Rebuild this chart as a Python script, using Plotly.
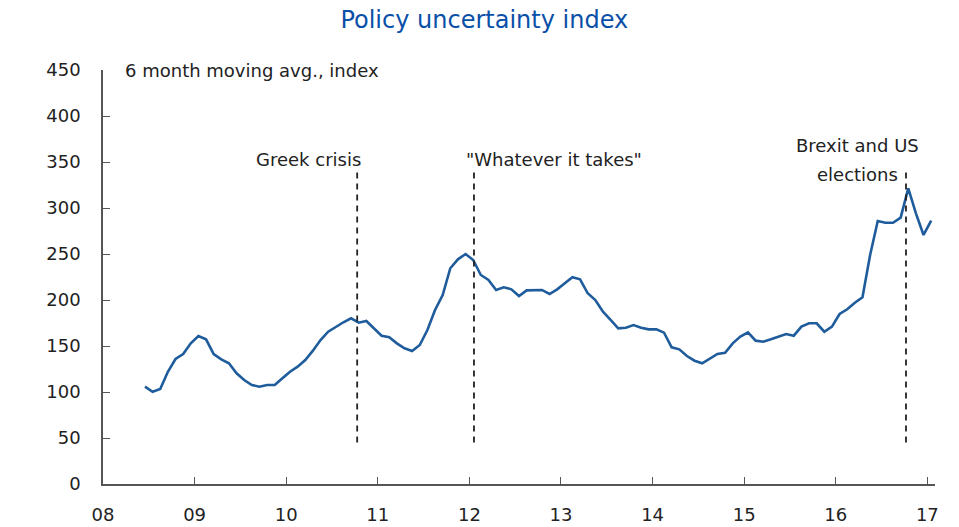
import plotly.graph_objects as go

# Monthly data, June 2008 .. January 2017 (6 month moving avg.)
start_month = 5.5  # months after Jan 2008 (mid-June 2008)
values = [105.8, 100.3, 103.3, 122.0, 135.9, 141.3, 153.0, 160.9, 157.3, 141.3,
          135.5, 131.2, 120.3, 113.0, 107.6, 105.8, 107.6, 107.6, 114.9, 122.0,
          127.5, 134.8, 144.9, 156.5, 165.5, 170.8, 175.8, 180.1, 175.3, 177.2,
          169.2, 161.2, 159.5, 152.9, 147.5, 144.6, 151.1, 167.4, 189.1, 205.4,
          234.5, 244.2, 250.0, 243.5, 227.2, 221.7, 210.9, 213.8, 211.6, 204.3,
          210.5, 210.9, 210.9, 206.5, 211.6, 218.2, 224.7, 222.5, 207.3, 200.0,
          187.3, 178.3, 169.2, 169.9, 172.8, 169.9, 168.1, 168.1, 164.5, 148.6,
          146.4, 139.1, 134.0, 131.2, 135.9, 141.3, 142.7, 152.9, 160.2, 164.9,
          155.8, 154.7, 157.3, 160.1, 163.0, 161.2, 171.0, 174.7, 174.7, 165.5,
          171.0, 184.8, 189.9, 197.1, 202.9, 248.9, 285.9, 284.0, 284.0, 289.5,
          321.4, 294.2, 270.7, 286.2]
months = [start_month + i for i in range(len(values))]

tick_labels = ["08", "09", "10", "11", "12", "13", "14", "15", "16", "17"]
tick_vals = [12 * i for i in range(len(tick_labels))]
y_ticks = [0, 50, 100, 150, 200, 250, 300, 350, 400, 450]

# Event markers (months after Jan 2008)
event_x = [33.3, 48.6, 105.2]
event_y = [45, 340]

font_family = "DejaVu Sans"
text_color = "#222222"

fig = go.Figure()
fig.add_trace(go.Scatter(x=months, y=values, mode="lines",
                         line=dict(color="#1f5c9c", width=2.6),
                         hoverinfo="skip", showlegend=False))
for ex in event_x:
    fig.add_trace(go.Scatter(x=[ex, ex], y=event_y, mode="lines",
                             line=dict(color="#222222", width=1.8, dash="6px,5px"),
                             hoverinfo="skip", showlegend=False))

fig.update_layout(
    width=959, height=527,
    margin=dict(l=103, r=24, t=70, b=43, autoexpand=False),
    paper_bgcolor="white", plot_bgcolor="white",
    font=dict(family=font_family, size=18, color=text_color),
    title=dict(text="Policy uncertainty index", x=0.505, xanchor="center",
               y=0.962, yanchor="middle",
               font=dict(family=font_family, size=24, color="#0a4fa8")),
    xaxis=dict(range=[0, 109], tickvals=tick_vals, ticktext=tick_labels,
               showgrid=False, zeroline=False, showline=True, automargin=False,
               linecolor="#555555", linewidth=1.5,
               ticks="inside", ticklen=7, tickwidth=1.2, tickcolor="#555555",
               tickfont=dict(size=18, color=text_color), ticklabelstandoff=14),
    yaxis=dict(range=[0, 450], tickvals=y_ticks,
               showgrid=False, zeroline=False, showline=True, automargin=False,
               linecolor="#555555", linewidth=1.5,
               ticks="inside", ticklen=7, tickwidth=1.2, tickcolor="#555555",
               tickfont=dict(size=18, color=text_color), ticklabelstandoff=17),
    annotations=[
        dict(text="6 month moving avg., index", xref="paper", yref="y",
             x=0.024, y=450, xanchor="left", yanchor="middle",
             showarrow=False, font=dict(size=18, color=text_color)),
        dict(text="Greek crisis", xref="x", yref="y", x=34.1, y=353,
             xanchor="right", yanchor="middle", showarrow=False,
             font=dict(size=18, color=text_color)),
        dict(text="\"Whatever it takes\"", xref="x", yref="y", x=47.3, y=353,
             xanchor="left", yanchor="middle", showarrow=False,
             font=dict(size=18, color=text_color)),
        dict(text="Brexit and US", xref="x", yref="y", x=98.8, y=368,
             xanchor="center", yanchor="middle", showarrow=False,
             font=dict(size=18, color=text_color)),
        dict(text="elections", xref="x", yref="y", x=98.8, y=336,
             xanchor="center", yanchor="middle", showarrow=False,
             font=dict(size=18, color=text_color)),
    ],
)

fig.write_html("out.html")
